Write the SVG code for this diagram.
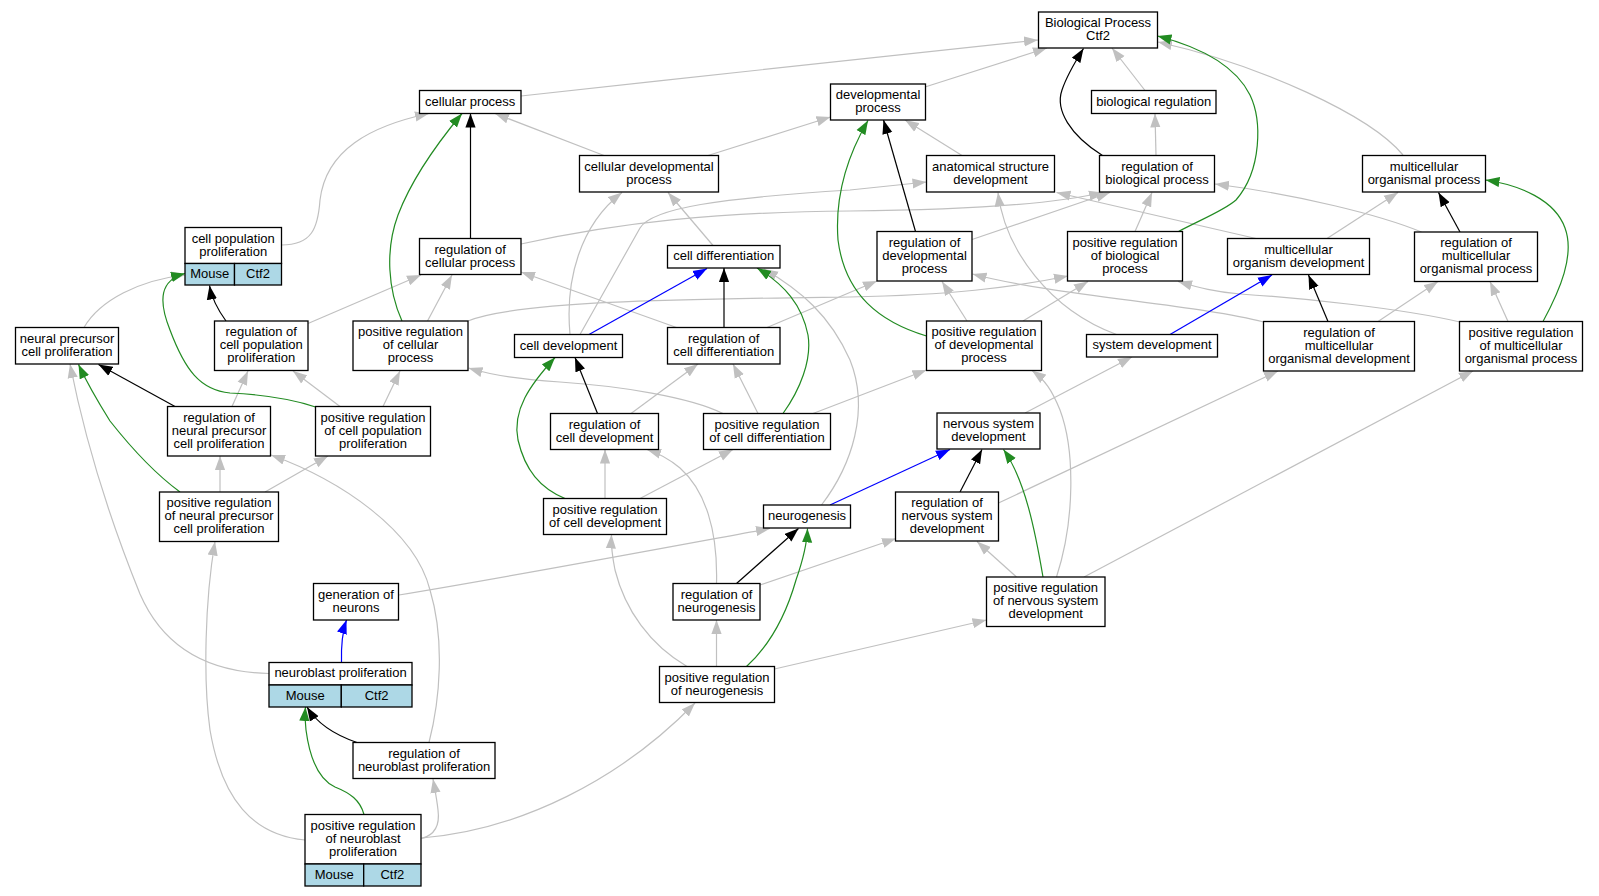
<svg xmlns="http://www.w3.org/2000/svg" width="1599" height="896" viewBox="0 0 1599 896">
<style>
.n rect{fill:#fff;stroke:#000;stroke-width:1.3}
.n rect.b{fill:#add8e6}
text{font-family:"Liberation Sans",Arial,sans-serif;font-size:13px;text-anchor:middle;fill:#000}
#edges path{fill:none;stroke-width:1.2}
#edges .g{stroke:#c0c0c0;marker-end:url(#ag)}
#edges .k{stroke:#000;marker-end:url(#ak)}
#edges .u{stroke:#0000ff;marker-end:url(#au)}
#edges .v{stroke:#228b22;marker-end:url(#av)}
</style>
<defs>
<marker id="ag" markerUnits="userSpaceOnUse" markerWidth="14" markerHeight="11" viewBox="0 0 14 11" refX="14" refY="5.5" orient="auto"><path d="M0,0.4 L14,5.5 L0,10.6 z" fill="#c0c0c0"/></marker>
<marker id="ak" markerUnits="userSpaceOnUse" markerWidth="14" markerHeight="11" viewBox="0 0 14 11" refX="14" refY="5.5" orient="auto"><path d="M0,0.4 L14,5.5 L0,10.6 z" fill="#000"/></marker>
<marker id="au" markerUnits="userSpaceOnUse" markerWidth="14" markerHeight="11" viewBox="0 0 14 11" refX="14" refY="5.5" orient="auto"><path d="M0,0.4 L14,5.5 L0,10.6 z" fill="#0000ff"/></marker>
<marker id="av" markerUnits="userSpaceOnUse" markerWidth="14" markerHeight="11" viewBox="0 0 14 11" refX="14" refY="5.5" orient="auto"><path d="M0,0.4 L14,5.5 L0,10.6 z" fill="#228b22"/></marker>
</defs>
<rect width="1599" height="896" fill="#fff"/>
<g id="edges">
<path class="g" d="M521,96 C700,76 900,55 1038,40"/>
<path class="g" d="M925,87 L1047,48"/>
<path class="g" d="M1145,90.5 L1112,48"/>
<path class="g" d="M1403,155 C1370,115 1260,65 1158,42"/>
<path class="g" d="M604,155.5 L495,113.5"/>
<path class="g" d="M708,155.5 L830.5,117"/>
<path class="g" d="M281.5,245 C312,245 318,228 320,200 C326,150 370,126 429,113.5"/>
<path class="g" d="M1156,155.5 L1155,113.5"/>
<path class="g" d="M962,155.5 L905,120"/>
<path class="g" d="M570,334.5 C565,280 580,225 622,192.5"/>
<path class="g" d="M713,245.5 L668,192.5"/>
<path class="g" d="M580,334.5 L640,228 C652,208 720,198 850,190 L926.5,182"/>
<path class="g" d="M521,244 C620,222 720,212 850,211 C960,210 1050,205 1103,192.5"/>
<path class="g" d="M972,239.5 L1110,192.5"/>
<path class="g" d="M1135,231.5 L1152,192.5"/>
<path class="g" d="M1421.5,232 C1380,215 1300,195 1215,184"/>
<path class="g" d="M1256,238.5 L1056.5,192.5"/>
<path class="g" d="M1116.5,334.5 C1050,310 1005,250 998,192.5"/>
<path class="g" d="M1327,238.5 L1398,192.5"/>
<path class="g" d="M84,327.5 C100,300 140,280 185,275"/>
<path class="g" d="M308,323.5 L421,275"/>
<path class="g" d="M427.5,321 L452,275"/>
<path class="g" d="M676.5,327.5 L521,272"/>
<path class="g" d="M821.5,505 C852,465 870,410 850,360 C830,315 800,290 764,269"/>
<path class="g" d="M767,327.5 L877,281"/>
<path class="g" d="M1263.5,322 C1200,305 1050,295 972.5,274"/>
<path class="g" d="M967,321 L942,281.5"/>
<path class="g" d="M468,321 C520,300 700,299 850,297 C950,295 1010,288 1068,276"/>
<path class="g" d="M1023,321 L1088,281.5"/>
<path class="g" d="M1460,322 C1400,308 1300,298 1240,294 C1215,292 1200,288 1178,281.5"/>
<path class="g" d="M1378,321.5 L1438,281.5"/>
<path class="g" d="M1508,321.5 L1490,281.5"/>
<path class="g" d="M269,673.5 C200,672 160,640 140,594 C110,520 85,440 70,364"/>
<path class="g" d="M232,406.5 L248,371"/>
<path class="g" d="M340,406.5 L293,371"/>
<path class="g" d="M383,406.5 L400,371"/>
<path class="g" d="M723,413.5 C690,397 620,386 560,382 C520,379 495,376 468.5,368"/>
<path class="g" d="M631,413.5 L698,364"/>
<path class="g" d="M758,413.5 L733,364"/>
<path class="g" d="M813,413.5 L926.5,370"/>
<path class="g" d="M1056.5,577 C1075,520 1075,450 1060,410 C1052,390 1045,380 1032,370.5"/>
<path class="g" d="M1025,413 L1132,357"/>
<path class="g" d="M998.5,503 L1278,371"/>
<path class="g" d="M1084,577 L1473,371"/>
<path class="g" d="M220,492 L220,456"/>
<path class="g" d="M265,492 L328,456"/>
<path class="g" d="M429,742.5 C440,700 445,640 430,590 C415,530 340,480 271,455"/>
<path class="g" d="M305,840 C253,835 222,800 210,730 C203,680 205,600 215,541.5"/>
<path class="g" d="M605,498.5 L605,449.5"/>
<path class="g" d="M716.5,583.5 C718,530 705,490 680,468 C668,458 658,453 647,449.5"/>
<path class="g" d="M640,498.5 L733,449.5"/>
<path class="g" d="M687,666.5 C650,645 625,610 615,570 C612,555 611,545 611.5,534.5"/>
<path class="g" d="M716.5,666.5 L716.5,620"/>
<path class="g" d="M399,595 C520,575 680,545 770,528.5"/>
<path class="g" d="M760,585 L896,538.5"/>
<path class="g" d="M1016.5,577 L977,541.5"/>
<path class="g" d="M774.5,669 L986.5,620"/>
<path class="g" d="M421.5,838.5 C435,835 440,825 438,810 C437,800 435,790 433,779"/>
<path class="g" d="M421.5,838 C520,830 620,780 695,703"/>
<path class="k" d="M1102.5,155.5 C1070,135 1055,110 1062,90 C1067,75 1075,62 1083.5,48.5"/>
<path class="k" d="M470.5,238.5 L470.5,113.5"/>
<path class="k" d="M915.5,231.5 L883.5,120"/>
<path class="k" d="M1460,232 L1438.5,192.5"/>
<path class="k" d="M1328,321.5 L1308.5,275"/>
<path class="k" d="M226,321 C218,310 212,300 209.5,285.5"/>
<path class="k" d="M175,406.5 L98.5,364.5"/>
<path class="k" d="M724,327.5 L724,268"/>
<path class="k" d="M597.5,413.5 L575,357.5"/>
<path class="k" d="M960,492 L982,449.5"/>
<path class="k" d="M736.5,583.5 L798.5,528.5"/>
<path class="k" d="M357,742.5 C335,735 318,725 307,707"/>
<path class="u" d="M589,334.5 L707,268.5"/>
<path class="u" d="M1170,334.5 L1272,275"/>
<path class="u" d="M830,505 L950,449.5"/>
<path class="u" d="M341.5,662.5 C341,645 343,630 346.5,620"/>
<path class="v" d="M1178.5,231.5 C1200,220 1225,210 1236,200 C1262,170 1262,120 1250,95 C1235,65 1200,47 1157.5,36"/>
<path class="v" d="M402,321 C388,290 385,250 398,215 C412,178 440,140 462,113.5"/>
<path class="v" d="M926.5,336 C880,322 845,295 838,240 C835,200 845,160 868,120.5"/>
<path class="v" d="M1543,321.5 C1560,290 1575,255 1565,228 C1555,200 1520,185 1485.5,180"/>
<path class="v" d="M315.5,407 C295,400 270,395 230,393 C200,390 185,370 170,330 C158,300 160,280 185,273.5"/>
<path class="v" d="M180,492 C150,470 125,440 110,421 C100,405 88,385 78.5,364.5"/>
<path class="v" d="M783,413.5 C800,390 812,360 808,335 C802,305 785,285 757,268"/>
<path class="v" d="M565,498.5 C540,488 525,470 518,440 C512,410 530,385 555,357.5"/>
<path class="v" d="M1043,577 C1035,530 1025,480 1003.5,449.5"/>
<path class="v" d="M746.5,666.5 C770,645 786,615 796,580 C803,560 807,545 807.5,528.5"/>
<path class="v" d="M364,814.5 C360,800 350,793 335,787 C320,780 310,760 306,730 C305,720 305,713 305.5,707"/>
</g>
<g id="n_bp" class="n"><rect x="1038.5" y="12" width="119" height="36"/><text><tspan x="1098" y="27">Biological Process</tspan><tspan x="1098" y="40">Ctf2</tspan></text></g>
<g id="n_cp" class="n"><rect x="419.5" y="90.5" width="101.5" height="23"/><text x="470.2" y="105.5">cellular process</text></g>
<g id="n_dp" class="n"><rect x="830.5" y="84" width="95" height="36"/><text><tspan x="878" y="99">developmental</tspan><tspan x="878" y="112">process</tspan></text></g>
<g id="n_br" class="n"><rect x="1091.5" y="90.5" width="124.5" height="23"/><text x="1153.7" y="105.5">biological regulation</text></g>
<g id="n_cdp" class="n"><rect x="579.5" y="155.5" width="139" height="36.5"/><text><tspan x="649" y="170.75">cellular developmental</tspan><tspan x="649" y="183.75">process</tspan></text></g>
<g id="n_asd" class="n"><rect x="926.5" y="155.5" width="128" height="36.5"/><text><tspan x="990.5" y="170.75">anatomical structure</tspan><tspan x="990.5" y="183.75">development</tspan></text></g>
<g id="n_rbp" class="n"><rect x="1099.5" y="155.5" width="115" height="36.5"/><text><tspan x="1157" y="170.75">regulation of</tspan><tspan x="1157" y="183.75">biological process</tspan></text></g>
<g id="n_mop" class="n"><rect x="1362.5" y="155.5" width="123" height="36.5"/><text><tspan x="1424" y="170.75">multicellular</tspan><tspan x="1424" y="183.75">organismal process</tspan></text></g>
<g id="n_cpp" class="n"><rect x="185" y="227.5" width="96.5" height="36"/><rect class="b" x="185" y="263.5" width="49.5" height="21.5"/><rect class="b" x="234.5" y="263.5" width="47" height="21.5"/><text><tspan x="233.2" y="242.5">cell population</tspan><tspan x="233.2" y="255.5">proliferation</tspan></text><text x="209.7" y="277.75">Mouse</text><text x="258" y="277.75">Ctf2</text></g>
<g id="n_rcp" class="n"><rect x="419.5" y="238.5" width="101.5" height="36"/><text><tspan x="470.2" y="253.5">regulation of</tspan><tspan x="470.2" y="266.5">cellular process</tspan></text></g>
<g id="n_cd" class="n"><rect x="667.5" y="245.5" width="112.5" height="22.5"/><text x="723.7" y="260.25">cell differentiation</text></g>
<g id="n_rdp" class="n"><rect x="877" y="231.5" width="95" height="49.5"/><text><tspan x="924.5" y="246.75">regulation of</tspan><tspan x="924.5" y="259.75">developmental</tspan><tspan x="924.5" y="272.75">process</tspan></text></g>
<g id="n_prbp" class="n"><rect x="1067.5" y="231.5" width="115" height="49.5"/><text><tspan x="1125" y="246.75">positive regulation</tspan><tspan x="1125" y="259.75">of biological</tspan><tspan x="1125" y="272.75">process</tspan></text></g>
<g id="n_mod" class="n"><rect x="1227.5" y="238.5" width="142" height="36"/><text><tspan x="1298.5" y="253.5">multicellular</tspan><tspan x="1298.5" y="266.5">organism development</tspan></text></g>
<g id="n_rmop" class="n"><rect x="1414.5" y="232" width="123" height="49.5"/><text><tspan x="1476" y="247.25">regulation of</tspan><tspan x="1476" y="260.25">multicellular</tspan><tspan x="1476" y="273.25">organismal process</tspan></text></g>
<g id="n_npcp" class="n"><rect x="15.5" y="327.5" width="103" height="36.5"/><text><tspan x="67" y="342.75">neural precursor</tspan><tspan x="67" y="355.75">cell proliferation</tspan></text></g>
<g id="n_rcpp" class="n"><rect x="214.5" y="321" width="93.5" height="49.5"/><text><tspan x="261.2" y="336.25">regulation of</tspan><tspan x="261.2" y="349.25">cell population</tspan><tspan x="261.2" y="362.25">proliferation</tspan></text></g>
<g id="n_prcp" class="n"><rect x="353" y="321" width="115" height="49.5"/><text><tspan x="410.5" y="336.25">positive regulation</tspan><tspan x="410.5" y="349.25">of cellular</tspan><tspan x="410.5" y="362.25">process</tspan></text></g>
<g id="n_cdev" class="n"><rect x="514.5" y="334.5" width="108" height="23"/><text x="568.5" y="349.5">cell development</text></g>
<g id="n_rcd" class="n"><rect x="667.5" y="327.5" width="112.5" height="36.5"/><text><tspan x="723.7" y="342.75">regulation of</tspan><tspan x="723.7" y="355.75">cell differentiation</tspan></text></g>
<g id="n_prdp" class="n"><rect x="926.5" y="321" width="115" height="49.5"/><text><tspan x="984" y="336.25">positive regulation</tspan><tspan x="984" y="349.25">of developmental</tspan><tspan x="984" y="362.25">process</tspan></text></g>
<g id="n_sd" class="n"><rect x="1086.5" y="334.5" width="131" height="22.5"/><text x="1152" y="349.25">system development</text></g>
<g id="n_rmod" class="n"><rect x="1263.5" y="321.5" width="151" height="49.5"/><text><tspan x="1339" y="336.75">regulation of</tspan><tspan x="1339" y="349.75">multicellular</tspan><tspan x="1339" y="362.75">organismal development</tspan></text></g>
<g id="n_prmop" class="n"><rect x="1459.5" y="321.5" width="123" height="49.5"/><text><tspan x="1521" y="336.75">positive regulation</tspan><tspan x="1521" y="349.75">of multicellular</tspan><tspan x="1521" y="362.75">organismal process</tspan></text></g>
<g id="n_rnpcp" class="n"><rect x="167.5" y="406.5" width="103" height="49.5"/><text><tspan x="219" y="421.75">regulation of</tspan><tspan x="219" y="434.75">neural precursor</tspan><tspan x="219" y="447.75">cell proliferation</tspan></text></g>
<g id="n_prcpp" class="n"><rect x="315.5" y="406.5" width="115" height="49.5"/><text><tspan x="373" y="421.75">positive regulation</tspan><tspan x="373" y="434.75">of cell population</tspan><tspan x="373" y="447.75">proliferation</tspan></text></g>
<g id="n_rcdev" class="n"><rect x="550.5" y="413.5" width="108" height="36"/><text><tspan x="604.5" y="428.5">regulation of</tspan><tspan x="604.5" y="441.5">cell development</tspan></text></g>
<g id="n_prcd" class="n"><rect x="703.5" y="413.5" width="127" height="36"/><text><tspan x="767" y="428.5">positive regulation</tspan><tspan x="767" y="441.5">of cell differentiation</tspan></text></g>
<g id="n_nsd" class="n"><rect x="937" y="413" width="103" height="36"/><text><tspan x="988.5" y="428">nervous system</tspan><tspan x="988.5" y="441">development</tspan></text></g>
<g id="n_prnpcp" class="n"><rect x="159.5" y="492" width="119" height="49.5"/><text><tspan x="219" y="507.25">positive regulation</tspan><tspan x="219" y="520.25">of neural precursor</tspan><tspan x="219" y="533.25">cell proliferation</tspan></text></g>
<g id="n_prcdev" class="n"><rect x="543.5" y="498.5" width="123" height="36"/><text><tspan x="605" y="513.5">positive regulation</tspan><tspan x="605" y="526.5">of cell development</tspan></text></g>
<g id="n_ng" class="n"><rect x="763.5" y="505" width="87" height="23"/><text x="807" y="520">neurogenesis</text></g>
<g id="n_rnsd" class="n"><rect x="895.5" y="492" width="103" height="49"/><text><tspan x="947" y="507">regulation of</tspan><tspan x="947" y="520">nervous system</tspan><tspan x="947" y="533">development</tspan></text></g>
<g id="n_gn" class="n"><rect x="313.5" y="583.5" width="85" height="36.5"/><text><tspan x="356" y="598.75">generation of</tspan><tspan x="356" y="611.75">neurons</tspan></text></g>
<g id="n_rng" class="n"><rect x="673" y="583.5" width="87" height="36.5"/><text><tspan x="716.5" y="598.75">regulation of</tspan><tspan x="716.5" y="611.75">neurogenesis</tspan></text></g>
<g id="n_prnsd" class="n"><rect x="986.5" y="577" width="118.5" height="49.5"/><text><tspan x="1045.7" y="592.25">positive regulation</tspan><tspan x="1045.7" y="605.25">of nervous system</tspan><tspan x="1045.7" y="618.25">development</tspan></text></g>
<g id="n_nbp" class="n"><rect x="269" y="662.5" width="143" height="22.5"/><rect class="b" x="269" y="685" width="72.3" height="22"/><rect class="b" x="341.3" y="685" width="70.7" height="22"/><text x="340.5" y="677.25">neuroblast proliferation</text><text x="305.2" y="699.5">Mouse</text><text x="376.6" y="699.5">Ctf2</text></g>
<g id="n_prng" class="n"><rect x="659.5" y="666.5" width="115" height="36"/><text><tspan x="717" y="681.5">positive regulation</tspan><tspan x="717" y="694.5">of neurogenesis</tspan></text></g>
<g id="n_rnbp" class="n"><rect x="353" y="742.5" width="142" height="36"/><text><tspan x="424" y="757.5">regulation of</tspan><tspan x="424" y="770.5">neuroblast proliferation</tspan></text></g>
<g id="n_prnbp" class="n"><rect x="305" y="814.5" width="116" height="49.5"/><rect class="b" x="305" y="864" width="58.7" height="22"/><rect class="b" x="363.7" y="864" width="57.3" height="22"/><text><tspan x="363" y="829.75">positive regulation</tspan><tspan x="363" y="842.75">of neuroblast</tspan><tspan x="363" y="855.75">proliferation</tspan></text><text x="334.3" y="878.5">Mouse</text><text x="392.3" y="878.5">Ctf2</text></g>
</svg>
